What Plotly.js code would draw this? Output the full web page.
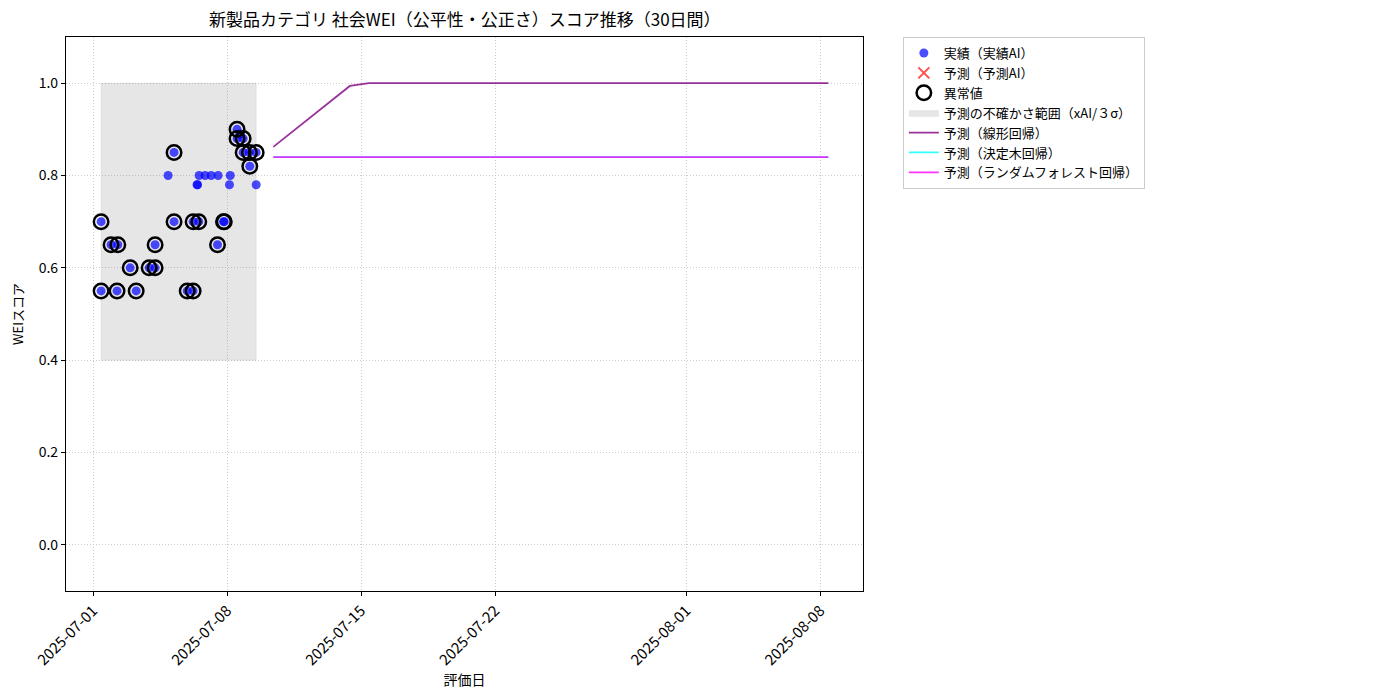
<!DOCTYPE html>
<html>
<head>
<meta charset="utf-8">
<script src="https://cdn.plot.ly/plotly-3.0.1.min.js"></script>
<style>
  html, body { margin: 0; padding: 0; background: #fff; }
  #chart { width: 1400px; height: 700px; }
</style>
</head>
<body>
<div id="chart"></div>
<script>
// 実績データ（評価日時・スコア・異常値フラグ）
const actualDates = [
  '2025-07-01 10:00', '2025-07-01 10:00', '2025-07-01 22:30', '2025-07-02 06:00', '2025-07-02 07:00',
  '2025-07-02 22:30', '2025-07-03 06:00', '2025-07-03 22:15', '2025-07-04 05:45', '2025-07-04 05:45',
  '2025-07-04 22:00', '2025-07-05 05:30', '2025-07-05 05:30', '2025-07-05 22:00', '2025-07-06 05:25',
  '2025-07-06 05:25', '2025-07-06 10:20', '2025-07-06 11:00', '2025-07-06 12:30', '2025-07-06 13:00',
  '2025-07-06 20:25', '2025-07-07 04:00', '2025-07-07 12:45', '2025-07-07 12:00', '2025-07-07 19:30',
  '2025-07-07 20:30', '2025-07-08 04:00', '2025-07-08 03:00', '2025-07-08 12:30', '2025-07-08 12:30',
  '2025-07-08 16:20', '2025-07-08 20:10', '2025-07-08 20:10', '2025-07-09 04:00', '2025-07-09 04:30',
  '2025-07-09 12:30', '2025-07-09 12:30'
];
const actualValues = [
  0.55, 0.70, 0.65, 0.55, 0.65,
  0.60, 0.55, 0.60, 0.60, 0.65,
  0.80, 0.85, 0.70, 0.55, 0.55,
  0.70, 0.78, 0.78, 0.70, 0.80,
  0.80, 0.80, 0.80, 0.65, 0.70,
  0.70, 0.80, 0.78, 0.90, 0.88,
  0.89, 0.88, 0.85, 0.85, 0.82,
  0.85, 0.78
];
const isAnomaly = [
  1, 1, 1, 1, 1,
  1, 1, 1, 1, 1,
  0, 1, 1, 1, 1,
  1, 0, 0, 1, 0,
  0, 0, 0, 1, 1,
  1, 0, 0, 1, 1,
  0, 1, 1, 1, 1,
  1, 0
];

// 予測AI（表示点なし）
const aiPredDates = [null];
const aiPredValues = [null];

// 不確かさ範囲（xAI / 3σ）
const bandLower = 0.4;
const bandUpper = 1.0;

// 30日間の予測
const forecastDates = [
  '2025-07-10 10:00', '2025-07-11 10:00', '2025-07-12 10:00', '2025-07-13 10:00', '2025-07-14 10:00',
  '2025-07-15 10:00', '2025-07-16 10:00', '2025-07-17 10:00', '2025-07-18 10:00', '2025-07-19 10:00',
  '2025-07-20 10:00', '2025-07-21 10:00', '2025-07-22 10:00', '2025-07-23 10:00', '2025-07-24 10:00',
  '2025-07-25 10:00', '2025-07-26 10:00', '2025-07-27 10:00', '2025-07-28 10:00', '2025-07-29 10:00',
  '2025-07-30 10:00', '2025-07-31 10:00', '2025-08-01 10:00', '2025-08-02 10:00', '2025-08-03 10:00',
  '2025-08-04 10:00', '2025-08-05 10:00', '2025-08-06 10:00', '2025-08-07 10:00', '2025-08-08 10:00'
];
const linearPred = [
  0.862, 0.895, 0.928, 0.961, 0.994, 1.0, 1.0, 1.0, 1.0, 1.0,
  1.0, 1.0, 1.0, 1.0, 1.0, 1.0, 1.0, 1.0, 1.0, 1.0,
  1.0, 1.0, 1.0, 1.0, 1.0, 1.0, 1.0, 1.0, 1.0, 1.0
];
const treePred = [
  0.84, 0.84, 0.84, 0.84, 0.84, 0.84, 0.84, 0.84, 0.84, 0.84,
  0.84, 0.84, 0.84, 0.84, 0.84, 0.84, 0.84, 0.84, 0.84, 0.84,
  0.84, 0.84, 0.84, 0.84, 0.84, 0.84, 0.84, 0.84, 0.84, 0.84
];
const forestPred = [
  0.84, 0.84, 0.84, 0.84, 0.84, 0.84, 0.84, 0.84, 0.84, 0.84,
  0.84, 0.84, 0.84, 0.84, 0.84, 0.84, 0.84, 0.84, 0.84, 0.84,
  0.84, 0.84, 0.84, 0.84, 0.84, 0.84, 0.84, 0.84, 0.84, 0.84
];

const xTicks = ['2025-07-01', '2025-07-08', '2025-07-15', '2025-07-22', '2025-08-01', '2025-08-08'];
const yTicks = [0.0, 0.2, 0.4, 0.6, 0.8, 1.0];

const FONT = '"Noto Sans CJK JP", "Noto Sans", sans-serif';

const sortedDates = actualDates.slice().sort();
const bandStart = sortedDates[0];
const bandEnd = sortedDates[sortedDates.length - 1];

const anomalyDates = actualDates.filter((_, i) => isAnomaly[i]);
const anomalyValues = actualValues.filter((_, i) => isAnomaly[i]);

const traces = [
  {
    name: '予測の不確かさ範囲（xAI/３σ）',
    x: [bandStart, bandEnd, bandEnd, bandStart, bandStart],
    y: [bandLower, bandLower, bandUpper, bandUpper, bandLower],
    type: 'scatter', mode: 'lines', fill: 'toself',
    fillcolor: 'rgba(128,128,128,0.2)',
    line: { width: 0.5, color: 'rgba(128,128,128,0.25)' },
    legendrank: 4, hoverinfo: 'skip'
  },
  {
    name: '予測（線形回帰）',
    x: forecastDates, y: linearPred,
    type: 'scatter', mode: 'lines',
    line: { color: 'rgba(128,0,128,0.8)', width: 1.8 },
    legendrank: 5
  },
  {
    name: '予測（決定木回帰）',
    x: forecastDates, y: treePred,
    type: 'scatter', mode: 'lines',
    line: { color: 'rgba(0,255,255,0.8)', width: 1.8 },
    legendrank: 6
  },
  {
    name: '予測（ランダムフォレスト回帰）',
    x: forecastDates, y: forestPred,
    type: 'scatter', mode: 'lines',
    line: { color: 'rgba(255,0,255,0.8)', width: 1.8 },
    legendrank: 7
  },
  {
    name: '実績（実績AI）',
    x: actualDates, y: actualValues,
    type: 'scatter', mode: 'markers',
    marker: { color: 'rgba(0,0,255,0.7)', size: 9, line: { width: 0 } },
    legendrank: 1
  },
  {
    name: '予測（予測AI）',
    x: aiPredDates, y: aiPredValues,
    type: 'scatter', mode: 'markers',
    marker: { color: 'rgba(255,0,0,0.7)', symbol: 'x-thin', size: 11, line: { width: 2, color: 'rgba(255,0,0,0.7)' } },
    legendrank: 2
  },
  {
    name: '異常値',
    x: anomalyDates, y: anomalyValues,
    type: 'scatter', mode: 'markers',
    marker: { color: 'rgba(0,0,0,0)', size: 14.5, symbol: 'circle', line: { width: 2.5, color: '#000' } },
    legendrank: 3
  }
];

const layout = {
  width: 1400, height: 700,
  paper_bgcolor: '#fff', plot_bgcolor: '#fff',
  font: { family: FONT, color: '#000', size: 13 },
  margin: { l: 66, r: 537, t: 37, b: 109 },
  title: {
    text: '新製品カテゴリ 社会WEI（公平性・公正さ）スコア推移（30日間）',
    font: { family: FONT, size: 17, color: '#000' },
    x: 0.332, xanchor: 'center', y: 0.971, yanchor: 'middle'
  },
  xaxis: {
    type: 'date',
    range: ['2025-06-29 14:00', '2025-08-10 05:30'],
    tickmode: 'array', tickvals: xTicks, ticktext: xTicks,
    tickangle: -45, tickfont: { size: 15 },
    ticks: 'outside', ticklen: 4, tickcolor: '#000',
    showline: true, mirror: true, linecolor: '#000', linewidth: 1.2,
    showgrid: true, gridcolor: '#cccccc', griddash: '1px,2px', gridwidth: 0.8,
    zeroline: false,
    title: { text: '評価日', font: { size: 14 }, standoff: 0 }
  },
  yaxis: {
    range: [-0.1, 1.1],
    tickmode: 'array', tickvals: yTicks, ticktext: yTicks.map(v => v.toFixed(1)),
    tickfont: { size: 14 },
    ticks: 'outside', ticklen: 4, tickcolor: '#000',
    showline: true, mirror: true, linecolor: '#000', linewidth: 1.2,
    showgrid: true, gridcolor: '#cccccc', griddash: '1px,2px', gridwidth: 0.8,
    zeroline: false,
    title: { text: 'WEIスコア', font: { size: 13 }, standoff: 12 }
  },
  legend: {
    x: 1.05, xanchor: 'left', y: 1.0, yanchor: 'top',
    bgcolor: 'rgba(255,255,255,0.8)', bordercolor: '#cccccc', borderwidth: 1,
    font: { family: FONT, size: 13, color: '#000' },
    tracegroupgap: 0
  },
  showlegend: true
};

Plotly.newPlot('chart', traces, layout, { displayModeBar: false, responsive: false });
</script>
</body>
</html>
